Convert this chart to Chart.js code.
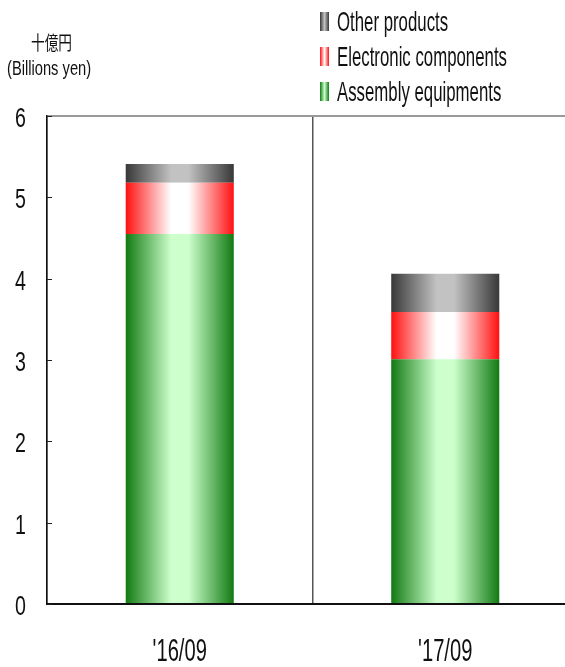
<!DOCTYPE html>
<html>
<head>
<meta charset="utf-8">
<script src="https://cdn.jsdelivr.net/npm/chart.js@4"></script>
<style>
  body { margin: 0; width: 565px; height: 667px; overflow: hidden; background: #fff; position: relative; }
  #wrap { position: absolute; left: 0; top: 0; }
  .narrow { font-family: 'Liberation Sans', Arial, sans-serif; color: #111; white-space: nowrap; transform-origin: left center; }
  .unit-jp { position: absolute; left: 31px; top: 31px; font-family: 'Noto Sans CJK JP', sans-serif; font-size: 19px; line-height: 22px; transform: scaleX(0.72); transform-origin: left center; color: #111; }
  .unit-en { position: absolute; left: 7px; top: 56px; font-size: 21px; line-height: 24px; transform: scaleX(0.7); }
  .legend { position: absolute; left: 320px; top: 4px; }
  .legend div { height: 35px; display: flex; align-items: center; }
  .legend span.box { display: inline-block; width: 9px; height: 19px; margin-right: 8px; }
  .legend span.txt { font-size: 28px; display: inline-block; transform: scaleX(0.6); transform-origin: left center; }
</style>
</head>
<body>
<div id="wrap"><canvas id="salesChart" width="578" height="667"></canvas></div>
<div class="unit-jp">十億円</div>
<div class="unit-en narrow">(Billions yen)</div>
<div class="legend narrow" id="legend"></div>
<script>
// Data (billions of yen)
const periods = ["'16/09", "'17/09"];
const assembly = [4.55, 3.01];
const electronic = [0.63, 0.58];
const other = [0.23, 0.47];
const yTicks = [0, 1, 2, 3, 4, 5, 6];

// edge colour, centre colour for the horizontal shading
const shades = {
    other: ['#383838', '#c2c2c2'],
    electronic: ['#ff1010', '#ffffff'],
    assembly: ['#127a12', '#ccffcc']
};

const BAR_PCT = 0.407;

const makeShade = (chart, idx, pair) => {
    const x = chart.scales.x;
    if (!x || !x.width) return pair[0];
    const cx = x.getPixelForValue(idx);
    const half = (x.width / periods.length) * BAR_PCT / 2;
    if (!isFinite(cx) || !isFinite(half)) return pair[0];
    const g = chart.ctx.createLinearGradient(cx - half, 0, cx + half, 0);
    g.addColorStop(0, pair[0]);
    g.addColorStop(0.42, pair[1]);
    g.addColorStop(0.58, pair[1]);
    g.addColorStop(1, pair[0]);
    return g;
};

const shadeFn = (pair) => (ctx) => makeShade(ctx.chart, ctx.dataIndex, pair);

// condensed text: the original uses a narrow font we don't have
const narrowText = (ctx, text, x, y, align, size, squeeze) => {
    ctx.save();
    ctx.translate(x, y);
    ctx.scale(squeeze, 1);
    ctx.font = size + 'px "Liberation Sans", Arial, sans-serif';
    ctx.fillStyle = '#111';
    ctx.textAlign = align;
    ctx.textBaseline = 'middle';
    ctx.fillText(text, 0, 0);
    ctx.restore();
};

// inward tick marks on the value axis + narrow tick labels
const axisExtras = {
    id: 'axisExtras',
    afterDraw(chart) {
        const { ctx, scales: { x, y }, chartArea } = chart;
        ctx.save();
        ctx.strokeStyle = '#222';
        ctx.lineWidth = 1;
        y.ticks.forEach((t, i) => {
            const py = Math.round(y.getPixelForTick(i)) + 0.5;
            ctx.beginPath();
            ctx.moveTo(chartArea.left, py);
            ctx.lineTo(chartArea.left + 5, py);
            ctx.stroke();
            narrowText(ctx, String(t.value), 26, py + 3, 'right', 28, 0.7);
        });
        x.ticks.forEach((t, i) => {
            narrowText(ctx, periods[i], x.getPixelForTick(i), chartArea.bottom + 48, 'center', 32, 0.63);
        });
        ctx.restore();
    }
};

const ctx = document.getElementById('salesChart').getContext('2d');
new Chart(ctx, {
    type: 'bar',
    data: {
        labels: periods,
        datasets: [
            { label: 'Assembly equipments', data: assembly, backgroundColor: shadeFn(shades.assembly) },
            { label: 'Electronic components', data: electronic, backgroundColor: shadeFn(shades.electronic) },
            { label: 'Other products', data: other, backgroundColor: shadeFn(shades.other) }
        ]
    },
    options: {
        responsive: false,
        animation: false,
        layout: { padding: { top: 116, right: 0, left: 0, bottom: 0 } },
        datasets: { bar: { barPercentage: BAR_PCT, categoryPercentage: 1, borderWidth: 0 } },
        plugins: { legend: { display: false }, tooltip: { enabled: false } },
        scales: {
            x: {
                stacked: true,
                afterFit: (s) => { s.height = 63; },
                border: { color: '#111', width: 2 },
                grid: { offset: true, color: '#555', lineWidth: 1.5, drawTicks: false },
                ticks: { display: false }
            },
            y: {
                stacked: true,
                min: 0,
                max: 6,
                afterFit: (s) => { s.width = 47; },
                afterBuildTicks: (s) => { s.ticks = yTicks.map(v => ({ value: v })); },
                border: { color: '#111', width: 1.5 },
                grid: {
                    drawTicks: false,
                    color: (c) => c.tick && c.tick.value === 6 ? '#999' : 'transparent',
                    lineWidth: 2
                },
                ticks: { display: false }
            }
        }
    },
    plugins: [axisExtras]
});

// legend (top to bottom: other, electronic, assembly)
const legendItems = [
    ['Other products', shades.other],
    ['Electronic components', shades.electronic],
    ['Assembly equipments', shades.assembly]
];
document.getElementById('legend').innerHTML = legendItems.map(([name, c]) =>
    `<div><span class="box" style="background:linear-gradient(to right, ${c[0]}, ${c[1]} 50%, ${c[0]})"></span><span class="txt">${name}</span></div>`
).join('');
</script>
</body>
</html>
